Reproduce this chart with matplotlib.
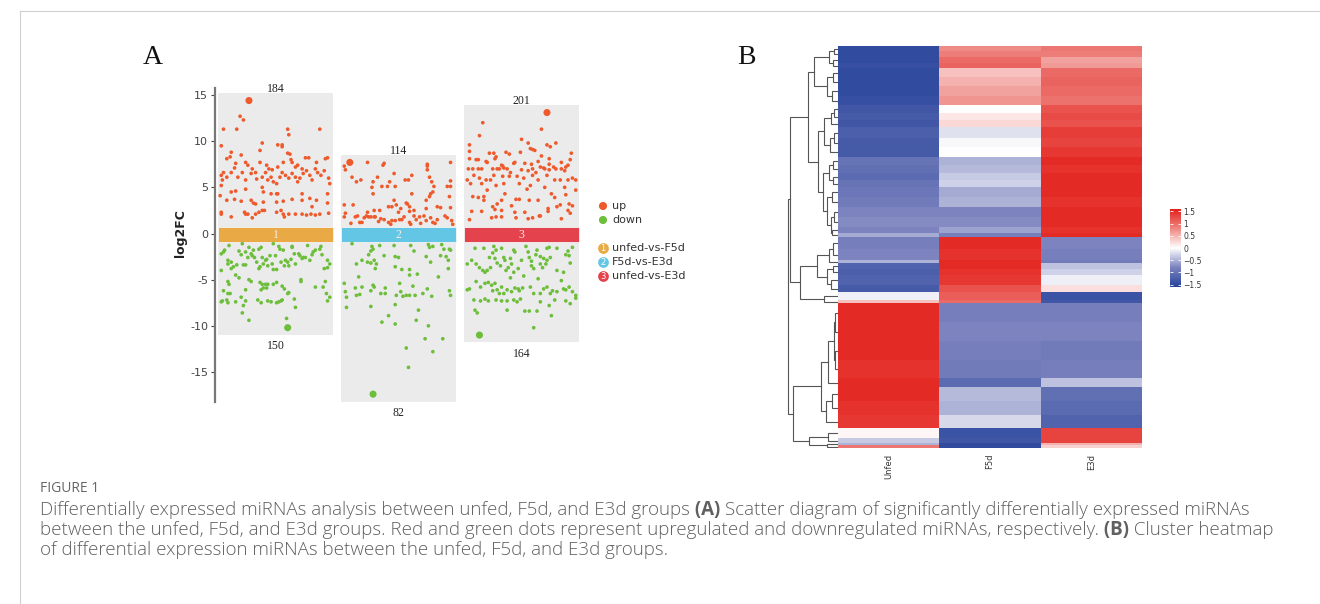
import numpy as np
import matplotlib
matplotlib.use('Agg')
import matplotlib.pyplot as plt
from matplotlib.colors import LinearSegmentedColormap
from matplotlib.patches import Rectangle


# ---------------- panel A data ----------------
comparisons = ['unfed-vs-F5d', 'F5d-vs-E3d', 'unfed-vs-E3d']
up_counts = [184, 114, 201]
down_counts = [150, 82, 164]
band_colors = ['#E9A944', '#63C6E5', '#E4424D']
up_color = '#EE5A2C'
down_color = '#6DBE3B'

# (position inside the column 0..1, log2FC)
g1_up = [(.26, 14.4), (.18, 12.7), (.21, 12.3), (.03, 11.3), (.15, 11.3), (.61, 11.3), (.62, 10.7), (.90, 11.3),
         (.38, 9.8), (.01, 9.5), (.52, 9.6), (.56, 9.6), (.56, 9.4), (.36, 9.0), (.19, 8.5), (.10, 8.8),
         (.06, 8.1), (.09, 8.3), (.61, 8.7), (.63, 8.6), (.97, 8.2), (.95, 8.1), (.77, 8.2), (.80, 8.2),
         (.64, 8.0), (.65, 7.7), (.23, 7.7), (.25, 7.4), (.14, 7.6), (.36, 7.7), (.42, 7.4), (.52, 7.2),
         (.57, 7.7), (.68, 7.2), (.74, 7.0), (.86, 7.0), (.87, 7.7), (.03, 6.6), (.01, 6.3), (.02, 5.8),
         (.01, 5.2), (.06, 6.1), (.10, 6.6), (.13, 7.1), (.16, 6.1), (.20, 6.6), (.23, 5.8), (.28, 6.5),
         (.29, 7.0), (.32, 6.6), (.38, 6.1), (.41, 6.6), (.43, 5.8), (.46, 6.1), (.48, 5.6), (.51, 5.4),
         (.54, 6.1), (.56, 6.6), (.59, 6.3), (.62, 6.0), (.65, 6.5), (.68, 6.1), (.70, 5.6), (.72, 6.0),
         (.75, 6.5), (.78, 6.8), (.81, 6.3), (.83, 5.8), (.88, 6.6), (.91, 6.3), (.94, 6.8), (.98, 6.0),
         (.99, 5.4), (.23, 4.8), (.10, 4.5), (.14, 4.6), (.38, 5.0), (.39, 4.5), (.46, 4.3), (.51, 4.3),
         (.52, 4.3), (.74, 4.3), (.97, 4.3), (.00, 4.1), (.06, 3.6), (.13, 3.7), (.19, 3.5), (.28, 3.6),
         (.30, 3.3), (.32, 3.2), (.39, 3.4), (.51, 3.4), (.57, 3.5), (.65, 3.7), (.74, 3.6), (.81, 3.8),
         (.83, 2.9), (.87, 3.6), (.97, 3.3), (.01, 2.3), (.01, 2.1), (.10, 1.8), (.22, 2.3), (.23, 2.1),
         (.25, 2.1), (.29, 1.7), (.32, 2.1), (.35, 2.3), (.38, 2.5), (.40, 2.5), (.51, 2.3), (.55, 2.5),
         (.57, 2.1), (.58, 1.8), (.62, 2.1), (.68, 2.1), (.74, 2.1), (.78, 2.0), (.82, 2.1), (.86, 2.0),
         (.90, 2.1), (.98, 2.2), (.44, 7.0), (.47, 6.9), (.33, 5.9), (.70, 7.4)]
g1_down = [(.01, -2.2), (.03, -2.0), (.01, -4.0), (.04, -1.8), (.08, -1.3), (.07, -2.9), (.10, -3.1), (.07, -3.3),
           (.10, -3.8), (.12, -3.6), (.15, -3.4), (.17, -1.9), (.19, -2.3), (.20, -1.1), (.21, -3.4), (.23, -3.4),
           (.23, -2.0), (.25, -2.6), (.26, -1.5), (.28, -2.2), (.29, -2.4), (.30, -1.8), (.31, -2.6), (.33, -3.1),
           (.35, -1.7), (.35, -3.8), (.36, -3.6), (.37, -1.5), (.38, -2.6), (.39, -3.3), (.41, -2.9), (.42, -2.8),
           (.43, -3.5), (.45, -2.4), (.47, -3.3), (.48, -1.1), (.48, -3.9), (.50, -2.4), (.51, -3.9), (.53, -1.4),
           (.54, -1.7), (.55, -3.1), (.57, -1.8), (.58, -3.5), (.59, -2.9), (.61, -3.1), (.62, -3.5), (.64, -2.8),
           (.65, -1.4), (.65, -1.5), (.67, -2.2), (.68, -3.3), (.71, -2.2), (.72, -2.4), (.74, -2.7), (.75, -2.6),
           (.77, -2.6), (.79, -1.3), (.81, -2.9), (.83, -2.3), (.84, -2.0), (.86, -1.8), (.90, -1.7), (.91, -1.4),
           (.92, -2.3), (.94, -3.8), (.97, -3.7), (.99, -3.3), (.97, -2.9), (.14, -4.5), (.17, -4.8), (.07, -5.2),
           (.08, -5.5), (.26, -5.0), (.28, -5.2), (.36, -5.3), (.38, -5.5), (.41, -5.5), (.39, -5.9), (.42, -5.9),
           (.43, -5.5), (.48, -5.5), (.51, -5.3), (.56, -5.7), (.58, -6.0), (.73, -5.0), (.73, -5.2), (.86, -5.8),
           (.95, -5.2), (.93, -5.8), (.03, -6.2), (.07, -6.5), (.09, -6.5), (.23, -6.1), (.37, -6.1), (.61, -6.5),
           (.62, -6.4), (.96, -6.5), (.99, -6.9), (.01, -7.4), (.02, -7.3), (.06, -7.2), (.07, -7.5), (.14, -7.4),
           (.19, -6.9), (.23, -7.3), (.21, -7.8), (.20, -8.6), (.34, -7.2), (.37, -7.5), (.43, -7.3), (.46, -7.4),
           (.51, -7.5), (.53, -7.4), (.55, -7.3), (.56, -7.2), (.67, -7.1), (.68, -8.0), (.97, -7.3), (.26, -9.4),
           (.60, -9.2), (.61, -10.2)]
g2_up = [(.06, 7.7), (.01, 7.3), (.02, 6.9), (.22, 7.7), (.36, 7.4), (.37, 7.6), (.76, 7.5), (.76, 7.3),
         (.97, 7.7), (.76, 6.9), (.46, 6.5), (.08, 6.1), (.12, 5.6), (.16, 5.8), (.27, 5.6), (.31, 6.1),
         (.26, 5.0), (.35, 5.1), (.40, 5.1), (.42, 5.6), (.47, 5.1), (.56, 5.8), (.59, 5.8), (.62, 6.3),
         (.78, 6.1), (.80, 5.6), (.82, 5.1), (.94, 5.1), (.97, 5.7), (.97, 5.1), (.27, 4.3), (.62, 4.3),
         (.79, 4.3), (.78, 4.0), (.81, 4.5), (.75, 3.6), (.96, 4.0), (.01, 3.1), (.09, 3.1), (.46, 3.6),
         (.48, 3.1), (.41, 2.9), (.44, 2.9), (.57, 3.3), (.58, 3.2), (.60, 2.9), (.60, 2.4), (.64, 2.5),
         (.75, 2.7), (.85, 2.9), (.88, 2.8), (.97, 2.8), (.02, 2.2), (.01, 1.8), (.11, 1.8), (.13, 1.9),
         (.19, 1.7), (.21, 1.9), (.22, 2.3), (.23, 1.8), (.25, 1.8), (.28, 2.5), (.28, 1.8), (.29, 1.8),
         (.33, 2.5), (.34, 1.6), (.37, 1.5), (.41, 1.2), (.43, 1.0), (.44, 1.4), (.47, 1.4), (.50, 2.3),
         (.51, 1.5), (.53, 1.5), (.55, 1.8), (.60, 1.2), (.61, 1.0), (.64, 1.9), (.66, 1.5), (.69, 1.8),
         (.73, 1.9), (.75, 1.4), (.79, 1.7), (.81, 1.2), (.83, 1.1), (.85, 1.5), (.92, 1.9), (.94, 1.7),
         (.98, 1.4), (.99, 1.0), (.17, 1.2), (.15, 1.2), (.07, 1.1), (.52, 2.7), (.70, 1.1), (.32, 1.3)]
g2_down = [(.08, -1.1), (.26, -1.4), (.27, -1.7), (.33, -1.3), (.46, -1.3), (.61, -1.3), (.77, -1.2), (.78, -1.5),
           (.81, -1.4), (.89, -1.2), (.91, -1.7), (.96, -1.7), (.97, -1.8), (.64, -1.9), (.25, -1.9), (.23, -2.3),
           (.37, -2.4), (.47, -2.5), (.50, -2.6), (.75, -2.5), (.88, -2.4), (.93, -2.5), (.17, -2.9), (.22, -3.1),
           (.25, -3.2), (.28, -2.9), (.30, -3.3), (.12, -3.3), (.79, -3.1), (.95, -2.9), (.47, -3.6), (.53, -3.9),
           (.29, -3.8), (.60, -3.9), (.95, -3.8), (.60, -4.5), (.67, -4.4), (.86, -4.7), (.14, -4.7), (.01, -5.4),
           (.27, -5.6), (.51, -5.4), (.28, -5.8), (.38, -5.9), (.11, -5.9), (.17, -5.8), (.25, -6.2), (.34, -6.5),
           (.38, -6.5), (.52, -6.3), (.48, -6.7), (.54, -6.8), (.57, -6.7), (.60, -6.7), (.63, -5.7), (.65, -6.7),
           (.72, -6.5), (.76, -6.0), (.80, -6.8), (.96, -6.2), (.97, -6.7), (.02, -6.3), (.03, -6.9), (.12, -6.7),
           (.15, -6.6), (.03, -8.0), (.25, -7.9), (.47, -7.7), (.68, -8.3), (.41, -8.9), (.35, -9.6), (.66, -9.4),
           (.47, -9.8), (.77, -10.0), (.74, -11.4), (.90, -11.4), (.57, -12.4), (.81, -12.8), (.59, -14.5),
           (.27, -17.4)]
g3_up = [(.73, 13.1), (.15, 12.0), (.12, 10.6), (.68, 11.3), (.50, 10.2), (.56, 9.8), (.58, 9.2), (.60, 9.1),
         (.73, 9.6), (.81, 9.8), (.76, 9.4), (.62, 9.0), (.03, 9.6), (.03, 8.9), (.21, 8.7), (.25, 8.7),
         (.36, 8.8), (.39, 8.6), (.49, 8.8), (.68, 8.4), (.95, 8.7), (.94, 8.0), (.03, 8.1), (.09, 8.0),
         (.11, 8.0), (.18, 7.8), (.19, 7.7), (.27, 8.3), (.26, 8.1), (.32, 7.4), (.34, 7.1), (.43, 7.6),
         (.44, 7.7), (.53, 7.6), (.59, 7.5), (.65, 7.8), (.70, 7.1), (.75, 8.1), (.75, 7.5), (.79, 7.2),
         (.86, 7.7), (.90, 7.2), (.02, 7.0), (.06, 7.0), (.11, 7.0), (.14, 7.0), (.24, 7.0), (.28, 7.0),
         (.30, 7.0), (.33, 7.3), (.37, 7.0), (.50, 6.9), (.56, 6.8), (.60, 7.0), (.67, 7.2), (.71, 7.0),
         (.75, 6.9), (.81, 7.0), (.86, 7.0), (.89, 6.8), (.07, 6.3), (.12, 6.0), (.18, 5.8), (.22, 5.8),
         (.25, 6.3), (.33, 6.2), (.39, 6.2), (.46, 6.2), (.52, 6.0), (.60, 6.3), (.65, 5.8), (.73, 6.3),
         (.80, 5.8), (.85, 5.8), (.92, 5.8), (.96, 6.0), (.99, 5.8), (.01, 5.8), (.04, 5.4), (.14, 5.4),
         (.27, 5.2), (.34, 5.4), (.48, 5.4), (.58, 5.2), (.71, 5.0), (.89, 5.0), (.06, 4.0), (.11, 3.9),
         (.16, 4.0), (.16, 3.6), (.19, 4.7), (.35, 4.3), (.32, 3.6), (.28, 3.2), (.24, 2.9), (.45, 3.7),
         (.48, 3.7), (.57, 3.6), (.65, 3.6), (.77, 4.3), (.80, 3.9), (.82, 2.9), (.85, 3.1), (.93, 3.2),
         (.96, 3.0), (.99, 4.7), (.90, 4.2), (.41, 3.0), (.05, 2.4), (.14, 2.4), (.26, 2.6), (.32, 2.5),
         (.44, 2.3), (.45, 1.7), (.53, 2.3), (.56, 1.6), (.60, 1.7), (.66, 1.9), (.67, 1.9), (.74, 2.4),
         (.74, 2.7), (.86, 1.6), (.92, 2.5), (.94, 2.2), (.03, 1.5), (.23, 1.7), (.27, 1.8), (.32, 1.8),
         (.40, 6.6), (.63, 6.6), (.92, 7.4), (.55, 4.8)]
g3_down = [(.08, -1.6), (.16, -1.6), (.25, -1.4), (.27, -1.8), (.32, -1.6), (.43, -1.8), (.44, -2.0), (.54, -1.4),
           (.56, -2.0), (.64, -1.8), (.73, -1.6), (.75, -1.5), (.82, -1.6), (.90, -2.3), (.92, -1.9), (.96, -1.5),
           (.24, -2.1), (.21, -2.6), (.26, -2.7), (.34, -2.6), (.35, -2.9), (.40, -2.7), (.50, -2.9), (.57, -2.6),
           (.59, -3.0), (.63, -2.3), (.67, -2.5), (.70, -2.7), (.73, -2.9), (.76, -2.6), (.93, -2.4), (.01, -3.3),
           (.05, -2.9), (.09, -3.3), (.12, -3.7), (.15, -4.0), (.17, -4.2), (.19, -4.0), (.22, -3.7), (.28, -3.2),
           (.31, -3.5), (.36, -4.0), (.38, -3.7), (.41, -3.3), (.43, -4.2), (.47, -3.8), (.59, -3.5), (.61, -3.8),
           (.67, -3.3), (.69, -3.7), (.72, -3.3), (.82, -4.0), (.88, -4.2), (.94, -3.2), (.01, -6.1), (.03, -6.0),
           (.09, -5.2), (.13, -5.8), (.17, -5.4), (.20, -5.3), (.23, -5.6), (.24, -6.2), (.26, -5.4), (.28, -6.1),
           (.30, -6.5), (.32, -5.8), (.34, -6.5), (.37, -6.1), (.41, -6.3), (.44, -5.9), (.47, -6.0), (.48, -6.2),
           (.51, -5.9), (.58, -5.8), (.61, -6.5), (.67, -6.5), (.70, -6.0), (.73, -5.8), (.76, -6.5), (.78, -6.2),
           (.82, -6.3), (.88, -6.0), (.90, -6.1), (.93, -5.8), (.96, -6.3), (.99, -6.7), (.99, -7.0), (.07, -7.2),
           (.13, -7.3), (.17, -7.1), (.20, -7.3), (.27, -7.2), (.32, -7.3), (.37, -7.3), (.43, -7.2), (.46, -7.4),
           (.49, -7.1), (.67, -7.4), (.75, -7.8), (.80, -7.2), (.90, -7.3), (.94, -7.6), (.08, -8.3), (.10, -8.6),
           (.37, -8.3), (.53, -8.4), (.57, -8.4), (.64, -8.4), (.77, -8.9), (.61, -10.2), (.12, -11.0),
           (.52, -4.6), (.65, -4.9), (.86, -5.1), (.40, -4.8)]
groups_up = [g1_up, g2_up, g3_up]
groups_down = [g1_down, g2_down, g3_down]

# ---------------- panel B data ----------------
sample_names = ['Unfed', 'F5d', 'E3d']
# rows of the heatmap (top to bottom): relative height, z-scores per sample
row_sizes = [5, 6, 6, 5, 9, 9, 10, 9, 8, 7, 7, 11, 9, 10, 8, 8, 7, 7, 10, 10, 10, 10, 6,
             4, 12, 11, 3, 6, 6, 10, 7, 8, 3, 19, 19, 19, 18, 9, 14, 14, 13, 10, 5, 2, 3]
unfed_z = [-1.5, -1.5, -1.5, -1.45, -1.5, -1.5, -1.5, -1.45, -1.35, -1.3, -1.35, -1.25, -1.3, -1.3,
           -1.0, -1.05, -1.1, -1.0, -0.95, -0.9, -0.8, -0.75, -0.8, -0.55, -0.85, -0.8, -0.5, -1.2,
           -1.25, -1.2, -1.3, -0.1, 0.4, 1.5, 1.5, 1.5, 1.45, 1.5, 1.5, 1.45, 1.4, 0.05, -0.35, -0.5, 0.9]
f5d_z = [0.75, 0.85, 1.0, 1.05, 0.4, 0.5, 0.6, 0.7, 0.0, 0.15, 0.25, -0.2, -0.05, 0.0,
         -0.5, -0.45, -0.35, -0.3, -0.55, -0.5, -0.8, -0.75, -0.6, -0.85, 1.5, 1.45, 1.5, 1.5,
         1.45, 1.4, 1.2, 1.1, 1.0, -0.85, -0.8, -0.85, -0.9, -1.1, -0.45, -0.5, -0.25, -1.4, -1.35, -1.5, -1.5]
e3d_z = [0.9, 0.85, 0.6, 0.65, 1.0, 1.05, 1.0, 0.95, 1.2, 1.25, 1.2, 1.35, 1.3, 1.4,
         1.5, 1.45, 1.5, 1.5, 1.5, 1.45, 1.5, 1.5, 1.45, 1.5, -0.8, -0.85, -0.9, -0.4,
         -0.3, -0.1, 0.2, -1.4, -1.35, -0.85, -0.8, -0.9, -0.85, -0.4, -1.05, -1.1, -1.2, 1.3, 1.3, 0.5, 0.3]
# row dendrogram: (merge height, left, right), leaves are row indices
row_tree = (50,
            (48,
             (29,
              (23, (8, (3, 0, 1), (4, 2, 3)), (10, (4, 4, 5), (5, 6, 7))),
              (19,
               (13, (6, (3, 8, 9), 10), (7, (3, 11, 12), 13)),
               (14, (8, (4, 14, 15), (4, 16, 17)), (10, (5, 18, 19), (6, (3, 20, 21), (5, 22, 23)))))),
             (38,
              (20, (8, (4, 24, 25), 26), (10, (4, 27, 28), (6, 29, 30))),
              (13, 31, 32))),
            (45,
             (16, (9, (3, (2, 33, 34), (2, 35, 36)), 37), (11, (5, 38, 39), 40)),
             (28, (9, 41, 42), (10, 43, 44))))

W, H = 1320, 604
fig = plt.figure(figsize=(W / 100, H / 100), dpi=100)


def px_axes(x0, y0, x1, y1):
    # axes from pixel box (top-left origin)
    return fig.add_axes([x0 / W, 1 - y1 / H, (x1 - x0) / W, (y1 - y0) / H])


# ---------------- panel A ----------------
ax = px_axes(215, 88, 582, 402)
half = 0.4675
for i in range(3):
    g = i + 1
    up = np.array(groups_up[i])
    dn = np.array(groups_down[i])
    top = up[:, 1].max() + 0.85
    bot = dn[:, 1].min() - 0.8
    ax.add_patch(Rectangle((g - half, bot), 2 * half, top - bot, color='#EBEBEB', lw=0, zorder=0))
    ax.add_patch(Rectangle((g - half, -0.95), 2 * half, 1.7, facecolor=band_colors[i],
                           edgecolor='#F4F4F4', lw=0.6, zorder=1))
    ax.text(g, -0.12, str(g), color='#F6EFE6', ha='center', va='center', fontsize=8.5,
            family='Liberation Serif', zorder=2)
    for pts, col in [(up, up_color), (dn, down_color)]:
        xs = g + (pts[:, 0] - 0.5) * 0.9
        ys = pts[:, 1]
        k = np.argmax(np.abs(ys))
        sizes = np.full(len(ys), 7.0)
        sizes[k] = 26
        ax.scatter(xs, ys, s=sizes, color=col, lw=0, zorder=3)
    ax.text(g, top + 0.35, str(up_counts[i]), ha='center', va='center', fontsize=8.5,
            family='Liberation Serif', color='#222222')
    ax.text(g, bot - 1.2, str(down_counts[i]), ha='center', va='center', fontsize=8.5,
            family='Liberation Serif', color='#222222')

ax.set_xlim(0.508, 0.508 + 367 / 123)
ax.set_ylim(-18.25, 15.76)
ax.set_yticks([-15, -10, -5, 0, 5, 10, 15])
ax.set_yticklabels(['-15', '-10', '-5', '0', '5', '10', '15'])
ax.set_xticks([])
for s in ['top', 'right', 'bottom']:
    ax.spines[s].set_visible(False)
ax.spines['left'].set_color('#777777')
ax.spines['left'].set_linewidth(1.6)
ax.tick_params(axis='y', length=3, width=0.8, color='#444444', labelsize=8, labelcolor='#444444', pad=2)
ax.patch.set_alpha(0)

# ---------------- panel B ----------------
cmap = LinearSegmentedColormap.from_list(
    'hm', [(0, '#26439B'), (0.25, '#7B83BE'), (0.5, '#FFFFFF'), (0.75, '#EE8580'), (1, '#E31F1A')])
Z = np.column_stack([unfed_z, f5d_z, e3d_z])
edges = np.concatenate([[0], np.cumsum(row_sizes)])
centers = (edges[:-1] + edges[1:]) / 2

hm = px_axes(838, 46, 1142, 448)
hm.pcolormesh([0, 1, 2, 3], edges, Z, cmap=cmap, vmin=-1.6, vmax=1.6)
hm.set_ylim(edges[-1], 0)
hm.set_xlim(0, 3)
hm.set_yticks([])
hm.set_xticks([0.5, 1.5, 2.5])
hm.set_xticklabels(sample_names, rotation=90, fontsize=6, color='#333333')
hm.tick_params(axis='x', length=0, pad=4)
for s in hm.spines.values():
    s.set_visible(False)

dg = px_axes(786, 46, 838, 448)


def draw_tree(node):
    if isinstance(node, int):
        return centers[node], 0.0
    h, left, right = node
    yl, hl = draw_tree(left)
    yr, hr = draw_tree(right)
    dg.plot([hl, h, h, hr], [yl, yl, yr, yr], color='#555555', lw=0.8, solid_joinstyle='miter')
    return (yl + yr) / 2, h


draw_tree(row_tree)
dg.set_xlim(52, -1.5)
dg.set_ylim(edges[-1], 0)
dg.axis('off')

cb = px_axes(1170, 209, 1181, 287)
grad = np.linspace(-1.6, 1.6, 256)
cb.pcolormesh([0, 1], grad, np.c_[grad[:-1]], cmap=cmap, vmin=-1.6, vmax=1.6)
cb.set_ylim(-1.6, 1.6)
cb.set_xlim(0, 1)
cb.set_xticks([])
cb.set_yticks([-1.5, -1, -0.5, 0, 0.5, 1, 1.5])
cb.set_yticklabels(['\u22121.5', '\u22121', '\u22120.5', '0', '0.5', '1', '1.5'])
cb.tick_params(axis='y', direction='in', length=2, width=0.6, color='white', left=True, right=True,
               labelleft=False, labelright=True, labelsize=5.5, labelcolor='#333333', pad=1.5)
for s in cb.spines.values():
    s.set_visible(False)

# ---------------- overlay: labels, legend, caption ----------------
ov = fig.add_axes([0, 0, 1, 1])
ov.set_xlim(0, W)
ov.set_ylim(H, 0)
ov.set_facecolor('none')
ov.axis('off')

ov.plot([20, 20], [11, H], color='#D0D0D0', lw=0.8)
ov.plot([20, W], [11, 11], color='#D0D0D0', lw=0.8)

ov.text(153, 58, 'A', fontsize=20, family='Liberation Serif', ha='center', va='center', color='#111111')
ov.text(746, 58, 'B', fontsize=20, family='Liberation Serif', ha='center', va='center', color='#111111')
ov.text(181, 233, 'log2FC', rotation=90, fontsize=9, ha='center', va='center', color='#222222',
        fontweight='semibold')

# legend
ov.scatter([603, 603], [206, 220], s=34, color=[up_color, down_color], lw=0)
ov.text(612, 206, 'up', fontsize=8, va='center', color='#333333')
ov.text(612, 220, 'down', fontsize=8, va='center', color='#333333')
for i, name in enumerate(comparisons):
    yy = 248 + 14 * i
    ov.scatter([603], [yy], s=60, color=band_colors[i], lw=0)
    ov.text(603, yy + 0.5, str(i + 1), fontsize=6, color='white', ha='center', va='center')
    ov.text(612, yy, name, fontsize=8, va='center', color='#333333')

# caption
cap_font = dict(family='Open Sans', color='#606060', fontsize=13.5)
ov.text(40, 488, 'FIGURE 1', va='center', family='Open Sans', color='#666666', fontsize=10)
caption_lines = [
    [('Differentially expressed miRNAs analysis between unfed, F5d, and E3d groups', 'light'),
     (' (A)', 'bold'), (' Scatter diagram of significantly differentially expressed miRNAs', 'light')],
    [('between the unfed, F5d, and E3d groups. Red and green dots represent upregulated and downregulated '
      'miRNAs, respectively.', 'light'), (' (B)', 'bold'), (' Cluster heatmap', 'light')],
    [('of differential expression miRNAs between the unfed, F5d, and E3d groups.', 'light')],
]
renderer = fig.canvas.get_renderer()
for li, parts in enumerate(caption_lines):
    x = 40
    y = 510 + 20 * li
    for txt, wt in parts:
        t = ov.text(x, y, txt, va='center', fontweight=wt, **cap_font)
        bb = t.get_window_extent(renderer)
        x = bb.x1

fig.savefig('out.png', dpi=100)
